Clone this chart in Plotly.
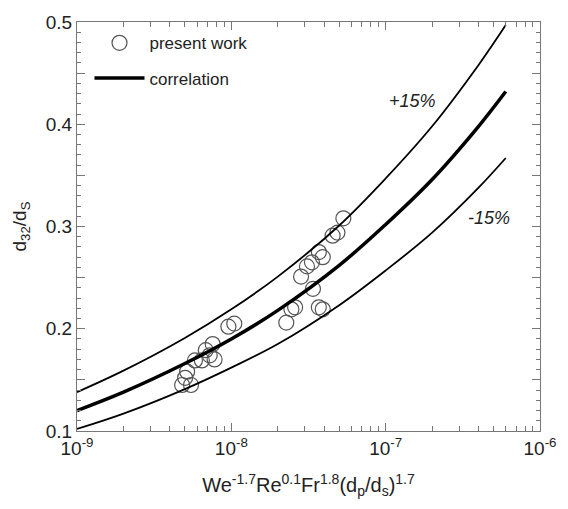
import plotly.graph_objects as go

# Correlation curve values
corr_x = [1e-9, 2e-9, 5e-9, 1e-8, 2e-8, 5e-8, 1e-7, 2e-7, 4e-7, 6e-7]
corr_y = [0.120, 0.138, 0.166, 0.190, 0.218, 0.262, 0.302, 0.346, 0.398, 0.432]
upper_y = [0.138, 0.159, 0.191, 0.219, 0.251, 0.301, 0.347, 0.398, 0.458, 0.497]
lower_y = [0.102, 0.117, 0.141, 0.162, 0.185, 0.223, 0.257, 0.294, 0.338, 0.367]

# Experimental points (present work)
exp_x = [4.80e-9, 5.48e-9, 5.02e-9, 5.17e-9, 5.81e-9, 6.44e-9, 6.83e-9, 7.57e-9, 7.79e-9, 7.24e-9,
         9.57e-9, 1.045e-8,
         5.32e-8, 4.87e-8, 4.53e-8, 3.69e-8, 3.91e-8, 3.33e-8, 3.09e-8, 2.83e-8, 3.38e-8,
         2.59e-8, 2.45e-8, 2.27e-8, 3.69e-8, 3.91e-8]
exp_y = [0.145, 0.145, 0.152, 0.158, 0.169, 0.169, 0.179, 0.185, 0.170, 0.174,
         0.202, 0.205,
         0.308, 0.294, 0.291, 0.275, 0.270, 0.265, 0.261, 0.251, 0.239,
         0.221, 0.219, 0.206, 0.221, 0.219]

x_tickvals = [1e-9, 1e-8, 1e-7, 1e-6]
x_ticktext = ["10<sup>-9</sup>", "10<sup>-8</sup>", "10<sup>-7</sup>", "10<sup>-6</sup>"]
y_tickvals = [0.1, 0.15, 0.2, 0.25, 0.3, 0.35, 0.4, 0.45, 0.5]
y_ticktext = ["0.1", "", "0.2", "", "0.3", "", "0.4", "", "0.5"]

FONT = "Liberation Sans, Arial, sans-serif"

fig = go.Figure()
fig.add_trace(go.Scatter(x=exp_x, y=exp_y, mode="markers", name="present work",
                         marker=dict(symbol="circle-open", size=15, color="#555555",
                                     line=dict(width=1.2, color="#555555")),
                         legendgroup="a"))
fig.add_trace(go.Scatter(x=corr_x, y=corr_y, mode="lines", name="correlation",
                         line=dict(color="black", width=3.5, shape="spline"),
                         legendgroup="b"))
fig.add_trace(go.Scatter(x=corr_x, y=upper_y, mode="lines", showlegend=False,
                         line=dict(color="black", width=1.8, shape="spline")))
fig.add_trace(go.Scatter(x=corr_x, y=lower_y, mode="lines", showlegend=False,
                         line=dict(color="black", width=1.8, shape="spline")))

axis_common = dict(showline=True, linecolor="#777777", linewidth=1, mirror="ticks",
                   ticks="inside", tickcolor="#777777", showgrid=False, zeroline=False,
                   tickfont=dict(family=FONT, size=19, color="#222222"))

fig.update_xaxes(type="log", range=[-9, -6], tickvals=x_tickvals, ticktext=x_ticktext,
                 ticklen=8,
                 minor=dict(ticks="inside", ticklen=5, dtick="D1", tickcolor="#777777", showgrid=False),
                 title=dict(text="We<sup>-1.7</sup>Re<sup>0.1</sup>Fr<sup>1.8</sup>(d<sub>p</sub>/d<sub>s</sub>)<sup>1.7</sup>",
                            font=dict(family=FONT, size=20, color="#222222"), standoff=20),
                 **axis_common)
fig.update_yaxes(range=[0.1, 0.5], tickvals=y_tickvals, ticktext=y_ticktext, ticklen=8,
                 minor=dict(ticks="inside", ticklen=4, dtick=0.01, tickcolor="#777777", showgrid=False),
                 title=dict(text="d<sub>32</sub>/d<sub>S</sub>",
                            font=dict(family=FONT, size=19, color="#222222"), standoff=14),
                 **axis_common)

fig.add_annotation(x=-6.828, y=0.423, xref="x", yref="y", text="<i>+15%</i>", showarrow=False,
                   font=dict(family=FONT, size=18, color="#222222"), xanchor="center", yanchor="middle")
fig.add_annotation(x=-6.331, y=0.308, xref="x", yref="y", text="<i>-15%</i>", showarrow=False,
                   font=dict(family=FONT, size=18, color="#222222"), xanchor="center", yanchor="middle")

fig.update_layout(
    width=568, height=509,
    margin=dict(l=77, r=20, t=19, b=78),
    paper_bgcolor="white", plot_bgcolor="white",
    showlegend=True,
    legend=dict(x=0.027, y=0.992, xanchor="left", yanchor="top",
                bgcolor="rgba(0,0,0,0)", font=dict(family=FONT, size=17, color="#222222"),
                traceorder="grouped", tracegroupgap=10, itemwidth=50),
)

fig.write_html("out.html")
